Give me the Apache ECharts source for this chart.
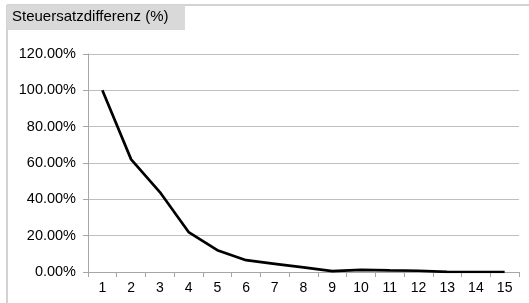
<!DOCTYPE html>
<html>
<head>
<meta charset="utf-8">
<script src="https://cdn.jsdelivr.net/npm/echarts@6/dist/echarts.min.js"></script>
<style>
  html, body { margin: 0; padding: 0; background: #fff; }
  #chart { width: 529px; height: 303px; }
</style>
</head>
<body>
<div id="chart"></div>
<script>
var titleText = 'Steuersatzdifferenz (%)';
var years = ['1', '2', '3', '4', '5', '6', '7', '8', '9', '10', '11', '12', '13', '14', '15'];
var diffPercent = [100, 62, 44, 22, 12, 6.5, 4.5, 2.5, 0.5, 1.2, 0.9, 0.7, 0.1, 0, 0];

var chartDom = document.getElementById('chart');
var myChart = echarts.init(chartDom);

var option = {
    animation: false,
    graphic: [
        // frame lines (top and left)
        { type: 'line', shape: { x1: 7, y1: 5, x2: 529, y2: 5 }, style: { stroke: '#a6a6a6', lineWidth: 1 } },
        { type: 'line', shape: { x1: 7, y1: 5, x2: 7, y2: 303 }, style: { stroke: '#a6a6a6', lineWidth: 1 } },
        { type: 'rect', shape: { x: 7, y: 5, width: 178, height: 25 }, style: { fill: '#d9d9d9' } },
        {
            type: 'text', left: 12, top: 9,
            style: { text: titleText, fill: '#000', font: '15px "Liberation Sans", Arial, sans-serif' }
        }
    ],
    grid: {
        left: 88,
        right: 10,
        top: 54,
        bottom: 31
    },
    xAxis: {
        type: 'category',
        data: years,
        boundaryGap: true,
        axisLine: { lineStyle: { color: '#a6a6a6' } },
        axisTick: { show: true, length: 5, alignWithLabel: false, lineStyle: { color: '#a6a6a6' } },
        axisLabel: { color: '#000', fontSize: 14, fontFamily: 'Liberation Sans', margin: 9 }
    },
    yAxis: {
        type: 'value',
        min: 0,
        max: 120,
        interval: 20,
        axisLine: { show: true, lineStyle: { color: '#a6a6a6' } },
        axisTick: { show: true, length: 5, lineStyle: { color: '#a6a6a6' } },
        axisLabel: {
            color: '#000', fontSize: 14.5, fontFamily: 'Liberation Sans', margin: 12,
            formatter: function (v) { return v.toFixed(2) + '%'; }
        },
        splitLine: { lineStyle: { color: '#bfbfbf' } }
    },
    series: [
        {
            type: 'line',
            data: diffPercent,
            showSymbol: false,
            symbol: 'none',
            lineStyle: { color: '#000', width: 2.7 }
        }
    ]
};

option && myChart.setOption(option);
</script>
</body>
</html>
